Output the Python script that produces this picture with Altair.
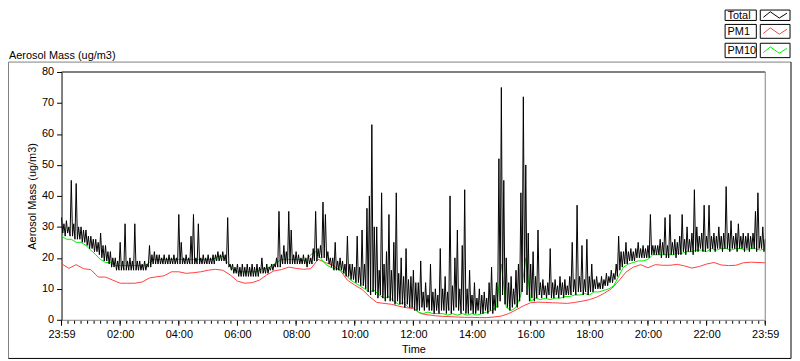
import json
import altair as alt
import pandas as pd

# ---------------- data ----------------
series_names = ["Total", "PM1", "PM10"]
series_colors = ["#000000", "#ff4040", "#00ee00"]

# Total: local highs at every 5 min (minute 0, 5, ...) and local lows in between (minute 2.5, 7.5, ...)
total_step_min = 5
total_peaks = [
    33, 31, 32, 30, 45, 31, 44, 30, 30, 29, 29, 27, 27, 26, 26, 25, 28, 24, 24, 22, 22, 20, 20, 19, 25,
    19, 31, 19, 20, 19, 31, 19, 19, 18, 19, 18, 24, 21, 22, 21, 21, 20, 21, 20, 21, 20, 21, 20, 34,
    25, 20, 21, 20, 27, 34, 20, 31, 20, 21, 20, 21, 20, 21, 21, 22, 21, 22, 21, 33, 18, 18, 17, 18, 17,
    18, 17, 18, 17, 18, 17, 18, 17, 20, 17, 18, 17, 18, 18, 20, 35, 21, 24, 22, 35, 29, 21, 22, 21,
    20, 21, 20, 21, 20, 23, 35, 23, 24, 38, 34, 22, 20, 20, 25, 19, 20, 19, 18, 27, 18, 18, 17, 27, 17,
    29, 18, 36, 40, 63, 30, 30, 16, 41, 18, 22, 34, 16, 25, 41, 15, 20, 14, 23, 13, 14, 16, 12, 12,
    19, 9, 12, 8, 18, 9, 10, 8, 23, 10, 14, 9, 40, 11, 20, 29, 10, 24, 42, 10, 16, 8, 12, 7, 10,
    8, 9, 7, 12, 17, 8, 12, 52, 75, 45, 20, 12, 14, 10, 16, 18, 41, 72, 50, 28, 18, 22, 14,
    29, 12, 13, 11, 12, 23, 12, 13, 11, 14, 12, 13, 11, 14, 25, 13, 37, 14, 24, 13, 26, 14, 18, 13, 14,
    12, 14, 13, 15, 14, 16, 15, 18, 27, 22, 22, 25, 22, 23, 22, 23, 25, 23, 24, 23, 24, 34, 24, 24,
    24, 26, 25, 33, 24, 34, 25, 26, 25, 27, 34, 26, 30, 26, 28, 42, 30, 27, 28, 37, 27, 37, 27, 28, 27,
    30, 27, 28, 43, 28, 32, 27, 28, 31, 27, 28, 27, 28, 27, 28, 35, 41, 27, 30, 26,
]
total_troughs = [
    28, 27, 28, 27, 27, 26, 26, 26, 25, 25, 24, 23, 23, 22, 22, 21, 20, 19, 19, 18, 17, 17, 16, 16, 16,
    16, 16, 16, 16, 16, 16, 16, 16, 16, 16, 17, 17, 18, 18, 18, 18, 18, 18, 18, 18, 18, 18, 18, 18,
    18, 18, 18, 18, 18, 18, 18, 18, 18, 18, 18, 18, 18, 18, 19, 19, 19, 19, 18, 17, 16, 15, 15, 14, 14,
    14, 14, 14, 14, 14, 14, 14, 15, 15, 15, 15, 16, 16, 17, 17, 17, 18, 18, 18, 18, 18, 18, 18, 18,
    18, 18, 17, 18, 18, 19, 19, 20, 20, 20, 19, 18, 17, 16, 16, 16, 16, 15, 14, 14, 13, 13, 12, 12, 11,
    11, 10, 9, 8, 9, 8, 7, 8, 7, 6, 7, 6, 6, 5, 6, 5, 5, 4, 5, 4, 4, 3, 3, 3,
    4, 3, 4, 3, 3, 2, 3, 2, 3, 3, 2, 3, 2, 3, 4, 3, 2, 3, 2, 2, 3, 2, 2, 3, 2,
    2, 3, 2, 3, 2, 3, 4, 6, 8, 5, 4, 3, 4, 5, 4, 6, 9, 12, 8, 6, 7, 6, 7,
    8, 7, 8, 7, 8, 7, 7, 8, 7, 8, 7, 8, 8, 8, 9, 8, 9, 9, 8, 9, 8, 9, 9, 10, 10,
    10, 10, 11, 11, 12, 12, 13, 14, 16, 17, 18, 18, 19, 19, 19, 20, 20, 20, 20, 20, 20, 21, 21, 21,
    21, 20, 21, 20, 20, 21, 21, 20, 21, 21, 22, 21, 22, 22, 21, 22, 22, 23, 22, 22, 23, 22, 23, 22, 23,
    23, 22, 23, 23, 22, 23, 23, 22, 23, 23, 22, 23, 22, 23, 23, 22, 23, 23, 22,
]

pm10_step_min = 10
pm10_values = [
    27, 26, 26, 25, 25, 24, 22.5, 21, 19.5, 18.5, 18.5, 17.5, 17.5, 17.5, 17.5, 17.5, 17.5, 17.5, 18.5, 19.5, 19.5, 19.5, 19.5, 19.5, 19.5,
    19.5, 19.5, 19.5, 19.5, 19.5, 19.5, 19.5, 20.5, 20.5, 18.5, 16.5, 15.5, 15.5, 15.5, 15.5, 15.5, 16.5, 16.5, 17.5, 18.5, 19.5, 19.5, 19.5, 19.5,
    19.5, 19, 21, 22, 20, 18, 17, 16.5, 16, 15, 13, 12, 11, 10, 9, 9.5, 8, 7, 7.5, 6, 5, 5.5, 4, 4,
    2.5, 2, 2.5, 2, 2, 2, 1.5, 2, 1.5, 2, 1.5, 2, 1.5, 2, 2.5, 3, 4, 18, 4, 3, 4, 8, 20, 6,
    7, 6.5, 7, 6.5, 7, 7, 7.5, 7.5, 8, 8, 8.5, 8, 9, 9, 9.5, 10, 11, 14, 17, 18, 18.5, 19, 19, 19.5,
    21, 21, 21, 21, 21, 21.5, 21.5, 22, 22, 22.5, 22.5, 22, 23, 22.5, 23, 23, 22.5, 23, 23, 22.5, 23, 23, 22.5, 23,
]

pm1_step_min = 15
pm1_values = [
    18.1, 16.6, 17.8, 16.5, 16.2, 13.8, 13.8, 12.8, 11.8, 11.8, 11.8, 12.2, 13.5, 13.9, 14.2, 15.5, 15.5,
    15.0, 15.2, 15.5, 16.0, 16.3, 16.0, 14.5, 12.5, 11.8, 12.0, 12.8, 14.5, 15.8, 16.2, 17.0, 16.6,
    16.3, 16.5, 19.5, 18.5, 17.6, 16.0, 12.8, 11.2, 9.8, 7.5, 5.6, 5.3, 5.0, 4.4, 3.9, 3.6,
    2.0, 1.6, 1.3, 1.1, 1.0, 0.9, 0.8, 0.8, 0.7, 0.7, 0.9, 1.2, 2.0, 3.2, 4.5, 5.5,
    5.7, 5.6, 5.5, 5.4, 5.3, 5.6, 6.0, 6.5, 7.3, 8.5, 10.0, 12.5, 15.4, 17.0, 17.8, 16.8,
    17.8, 17.6, 17.6, 17.9, 17.4, 16.7, 17.2, 18.0, 18.5, 17.7, 17.5, 17.6, 18.4, 18.6, 18.5, 18.4,
]

x_tick_labels = ["23:59", "02:00", "04:00", "06:00", "08:00", "10:00", "12:00",
                 "14:00", "16:00", "18:00", "20:00", "22:00", "23:59"]
y_ticks = [0, 10, 20, 30, 40, 50, 60, 70, 80]
chart_title = "Aerosol Mass (ug/m3)"
y_title = "Aerosol Mass (ug/m3)"
x_title = "Time"

# ---------------- build ----------------
FONT = "Liberation Sans"
W, H = 710, 250


def frame(name, step, values, offset=0.0):
    return pd.DataFrame({"minute": [k * step + offset for k in range(len(values))],
                         "value": values, "series": name})


df_total = pd.concat([
    frame("Total", total_step_min, total_peaks),
    frame("Total", total_step_min, total_troughs, offset=total_step_min / 2),
]).sort_values("minute").reset_index(drop=True)
df_pm10 = frame("PM10", pm10_step_min, pm10_values)
df_pm1 = frame("PM1", pm1_step_min, pm1_values)

x_scale = alt.Scale(domain=[0, 1440], nice=False, zero=False)
y_scale = alt.Scale(domain=[0, 80], nice=False)

minor_ticks = [k * 1440 / 108 for k in range(109)]
major_ticks = [k * 120 for k in range(13)]
label_expr = ("datum.value % 120 == 0 ? " + json.dumps(x_tick_labels)
              + "[round(datum.value / 120)] : ''")

x_axis = alt.Axis(values=major_ticks, labelExpr=label_expr, ticks=False,
                  domainColor="#808080", labelFont=FONT, labelFontSize=11, labelColor="black",
                  labelPadding=9, labelFlush=False, labelOverlap=False, grid=False,
                  title=x_title, titleFont=FONT, titleFontSize=11, titleFontWeight="normal",
                  titleColor="black", titlePadding=4)
y_axis = alt.Axis(values=y_ticks, tickSize=5, tickColor="black", domainColor="black",
                  labelFont=FONT, labelFontSize=11, labelColor="black", labelPadding=3,
                  grid=False, title=y_title, titleFont=FONT, titleFontSize=11,
                  titleFontWeight="normal", titleColor="black", titlePadding=4)

X = alt.X("minute:Q", scale=x_scale, axis=x_axis)
Y = alt.Y("value:Q", scale=y_scale, axis=y_axis)


def line_layer(df, color):
    return alt.Chart(df).mark_line(color=color, strokeWidth=1, interpolate="linear").encode(x=X, y=Y)


layers = [
    line_layer(df_pm1, series_colors[1]),
    line_layer(df_pm10, series_colors[2]),
    line_layer(df_total, series_colors[0]),
]

# time-axis ticks: minor (short) and major (long)
layers.append(
    alt.Chart(pd.DataFrame({"minute": minor_ticks})).mark_rule(color="black", strokeWidth=1).encode(
        x=X, y=alt.value(H + 1), y2=alt.value(H + 4))
)
layers.append(
    alt.Chart(pd.DataFrame({"minute": major_ticks})).mark_rule(color="black", strokeWidth=1).encode(
        x=X, y=alt.value(H + 1), y2=alt.value(H + 6))
)

one = pd.DataFrame({"a": [0]})


def rule(x, y, x2=None, y2=None, color="black"):
    enc = {"x": alt.value(x), "y": alt.value(y)}
    if x2 is not None:
        enc["x2"] = alt.value(x2)
    if y2 is not None:
        enc["y2"] = alt.value(y2)
    return alt.Chart(one).mark_rule(color=color, strokeWidth=1).encode(**enc)


# plot frame: top black, right gray
layers.append(rule(0, 0, x2=W, color="black"))
layers.append(rule(W, 0, y2=H, color="#808080"))
# outer panel frame
layers.append(rule(-53.5, -10, x2=736, color="#808080"))
layers.append(rule(-53.5, -10, y2=289, color="#808080"))
layers.append(rule(736, -10, y2=289, color="black"))
layers.append(rule(-53.5, 289, x2=736, color="black"))

# chart title at top left
layers.append(
    alt.Chart(one).mark_text(align="left", baseline="alphabetic", font=FONT, fontSize=11,
                             color="black").encode(
        x=alt.value(-53), y=alt.value(-13), text=alt.value(chart_title))
)

# legend (label box + sample box per series)
row_tops = [-62.5, -48, -29]
row_bottoms = [-52, -34, -14.5]
zig = "M-0.85,0.15L-0.35,-0.25L0.3,0.2L0.85,-0.15"
for name, color, top, bot in zip(series_names, series_colors, row_tops, row_bottoms):
    ldf = pd.DataFrame({"series": [name]})
    cy = (top + bot) / 2
    layers.append(alt.Chart(ldf).mark_rect(fill="white", stroke="black", strokeWidth=1).encode(
        x=alt.value(669.5), x2=alt.value(701), y=alt.value(top), y2=alt.value(bot)))
    layers.append(alt.Chart(ldf).mark_text(align="left", baseline="middle", font=FONT,
                                           fontSize=11, color="black").encode(
        x=alt.value(672), y=alt.value(cy + 0.5), text="series:N"))
    layers.append(alt.Chart(ldf).mark_rect(fill="white", stroke="black", strokeWidth=1).encode(
        x=alt.value(705), x2=alt.value(735), y=alt.value(top), y2=alt.value(bot)))
    layers.append(alt.Chart(ldf).mark_point(shape=zig, size=784, filled=False, strokeWidth=1,
                                            color=color, opacity=1).encode(
        x=alt.value(720), y=alt.value(cy)))

chart = alt.layer(*layers).properties(
    width=W, height=H,
    autosize=alt.AutoSizeParams(type="none"),
    padding={"left": 54, "top": 63, "right": 27, "bottom": 40},
    background="white",
).configure_view(stroke=None)

chart.save("out.html", embed_options={"renderer": "svg", "actions": False})
